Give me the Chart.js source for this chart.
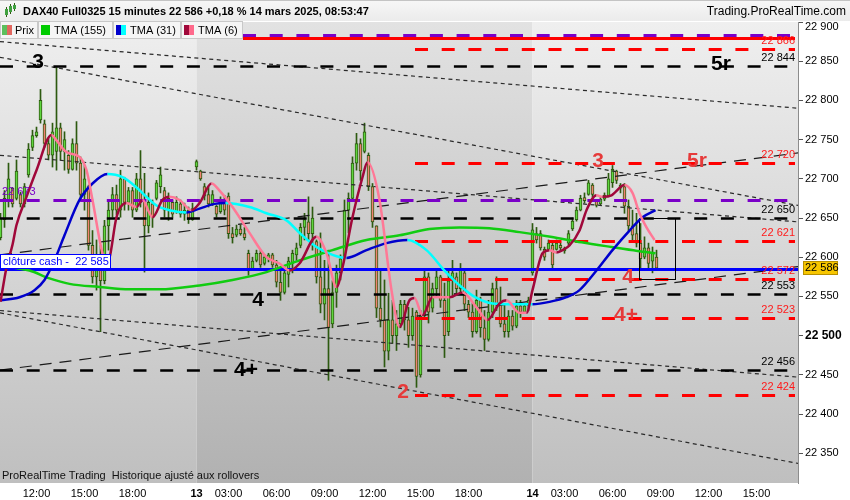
<!DOCTYPE html>
<html><head><meta charset="utf-8">
<script src="https://cdn.jsdelivr.net/npm/chart.js@4.4.1/dist/chart.umd.min.js"></script>
<style>html,body{margin:0;padding:0;background:#fff;}canvas{display:block}</style>
</head><body>
<canvas id="c" width="850" height="500"></canvas>
<script>
// ---------- DATA ----------
const candleOpen = [
22625,22648,22672,22688,22675,22680,22668,22705,22740,22755,
22775,22770,22745,22730,22735,22765,22735,22730,22712,22745,
22720,22680,22690,22615,22575,22600,22570,22640,22660,22680,
22660,22700,22670,22685,22660,22700,22670,22640,22668,22675,
22690,22685,22660,22670,22658,22668,22655,22660,22648,22715,
22710,22690,22680,22668,22665,22658,22672,22678,22630,22628,
22636,22630,22605,22585,22596,22605,22592,22598,22603,22590,
22568,22555,22578,22592,22603,22615,22638,22645,22630,22620,
22575,22540,22560,22515,22555,22580,22600,22660,22675,22720,
22745,22735,22730,22690,22640,22535,22520,22480,22520,22500,
22515,22540,22520,22500,22530,22450,22525,22575,22535,22560,
22575,22545,22505,22570,22575,22560,22580,22540,22530,22505,
22545,22510,22495,22530,22560,22540,22515,22505,22525,22512,
22538,22530,22538,22580,22630,22630,22610,22610,22615,22610,
22615,22608,22618,22636,22648,22660,22676,22680,22692,22672,
22668,22674,22678,22695,22710,22692,22690,22665,22640,22630,
22618,22600,22612,22595,22600];
const candleHigh = [
22656,22685,22720,22689,22724,22683,22694,22745,22762,22766,
22814,22775,22751,22771,22842,22771,22760,22736,22751,22773,
22728,22717,22692,22634,22622,22615,22647,22673,22689,22692,
22711,22702,22689,22689,22707,22736,22707,22682,22673,22698,
22715,22689,22682,22673,22677,22673,22669,22664,22669,22724,
22711,22694,22689,22685,22666,22677,22679,22682,22638,22641,
22641,22638,22609,22600,22609,22609,22603,22605,22605,22596,
22587,22587,22600,22609,22618,22643,22656,22677,22664,22622,
22631,22596,22609,22570,22590,22603,22673,22682,22728,22758,
22751,22771,22733,22694,22640,22583,22571,22554,22545,22532,
22545,22545,22536,22535,22532,22532,22583,22580,22567,22583,
22577,22567,22583,22596,22580,22592,22582,22545,22541,22558,
22549,22532,22545,22567,22575,22562,22541,22532,22532,22545,
22545,22541,22549,22643,22638,22634,22613,22622,22618,22622,
22618,22613,22634,22650,22664,22679,22682,22698,22694,22673,
22677,22682,22707,22717,22711,22694,22694,22673,22660,22656,
22643,22626,22618,22613,22609];
const candleLow = [
22622,22638,22664,22664,22673,22664,22664,22702,22736,22753,
22771,22740,22724,22715,22711,22724,22711,22707,22711,22711,
22673,22660,22609,22567,22558,22505,22566,22609,22651,22654,
22651,22660,22660,22651,22658,22664,22581,22631,22638,22673,
22682,22651,22647,22651,22656,22651,22647,22643,22647,22711,
22698,22673,22664,22666,22651,22656,22654,22624,22618,22626,
22628,22622,22577,22583,22594,22587,22590,22594,22587,22562,
22545,22553,22562,22580,22596,22612,22622,22622,22609,22567,
22529,22520,22443,22510,22536,22571,22598,22631,22673,22711,
22698,22733,22685,22638,22523,22511,22460,22469,22490,22481,
22510,22507,22485,22494,22434,22447,22523,22516,22530,22549,
22536,22472,22500,22549,22554,22554,22532,22523,22498,22503,
22498,22481,22493,22523,22532,22511,22498,22498,22507,22510,
22523,22529,22532,22577,22618,22609,22596,22609,22583,22609,
22609,22605,22616,22634,22646,22659,22669,22679,22677,22664,
22666,22672,22677,22689,22694,22682,22656,22634,22622,22613,
22583,22598,22583,22580,22583];
const candleClose = [
22650,22675,22700,22668,22710,22668,22690,22738,22755,22760,
22800,22745,22730,22760,22765,22735,22750,22712,22745,22720,
22680,22700,22615,22575,22600,22570,22640,22660,22680,22660,
22700,22670,22685,22660,22700,22670,22640,22670,22650,22695,
22705,22660,22675,22655,22670,22655,22660,22648,22662,22722,
22700,22678,22668,22680,22655,22672,22660,22630,22625,22636,
22630,22625,22585,22595,22605,22590,22600,22603,22590,22568,
22555,22580,22595,22605,22612,22638,22648,22630,22650,22575,
22540,22560,22510,22555,22580,22598,22660,22675,22720,22745,
22710,22760,22690,22645,22535,22520,22480,22520,22500,22515,
22540,22520,22500,22525,22448,22525,22575,22530,22560,22575,
22545,22500,22570,22580,22560,22585,22540,22530,22505,22545,
22510,22495,22530,22560,22540,22515,22505,22525,22512,22538,
22530,22538,22545,22635,22622,22612,22600,22618,22590,22618,
22612,22611,22630,22646,22660,22675,22672,22695,22680,22666,
22674,22679,22700,22712,22698,22688,22665,22640,22628,22618,
22598,22612,22592,22605,22586];

// moving averages (bar index, price)
const tma155Idx = [0,7.25,12.25,17.25,24.75,32.25,39.75,49.75,58,66.5,74.75,83,91.5,99.75,107.25,114.75,122.25,129.75,137.5,145.25,152.75,159.25,163.75];
const tma155Val = [22589,22583,22573,22566,22562,22559,22559,22564,22571,22581,22596,22609,22622,22628,22636,22638,22637,22632,22626,22619,22613,22608,22605];
const tma31Idx = [0,4.75,8.5,11,13.5,16,19.75,23,26.75,30.5,34,36.5,39,42.25,46.5,49.75,53.5,56.25,62.25,66.5,71.5,74.75,79,83,86.5,91.5,96.5,101.75,106.5,111,115.25,119,123,128,133,137.25,141.5,144.75,149,153,157.25,160.5,163.75];
const tma31Val = [22545,22549,22558,22571,22596,22628,22673,22694,22706,22702,22689,22677,22666,22660,22657,22662,22668,22669,22664,22656,22647,22631,22613,22603,22599,22609,22618,22622,22609,22583,22562,22548,22541,22540,22540,22543,22549,22558,22583,22609,22634,22651,22660];
const tma6Idx = [0,1.5,3,4,6.5,9,12.75,14,16.5,19.75,21.5,23,25.5,26.5,27.25,29,31.5,34,35.5,38,40.5,42.25,44.75,47.75,49.75,52.75,54.75,58,62.25,66.5,69.75,72.25,74.75,79,81.5,84,85.5,88,90.5,91.75,94.75,97.75,99.75,102.25,103.5,105.5,108,112.25,115.5,119,121.75,124.75,126.5,129.75,131.5,133,135.5,137.25,139,140.5,142.25,144.75,146.5,149,150.5,152.75,156,158,159.75,161.5,163.5];
const tma6Val = [22543,22587,22616,22641,22677,22711,22756,22749,22734,22728,22711,22673,22605,22594,22599,22651,22669,22664,22673,22651,22673,22677,22673,22660,22669,22694,22685,22664,22631,22600,22592,22583,22592,22626,22605,22562,22587,22651,22702,22721,22673,22558,22511,22545,22548,22526,22549,22549,22555,22536,22520,22541,22545,22529,22529,22558,22605,22609,22606,22609,22615,22634,22660,22679,22677,22679,22692,22682,22656,22638,22622];

const seriesNames = ['Prix','TMA (155)','TMA (31)','TMA (6)'];

// time axis (bar index of each label)
const xTickIndex = [9,21,33,49,57,69,81,93,105,117,133,141,153,165,177,189];
const xTickLabels = ['12:00','15:00','18:00','13','03:00','06:00','09:00','12:00','15:00','18:00','14','03:00','06:00','09:00','12:00','15:00'];
const sessionBreaks = [49,133];
const yTickValues = [22350,22400,22450,22500,22550,22600,22650,22700,22750,22800,22850,22900];

// horizontal levels
const levelValue = [22883,22880,22866,22844,22720,22673,22650,22621,22585,22572,22553,22523,22456,22424];
const levelFrom  = [60.625,60.625,103.625,-0.125,103.625,-0.125,-0.125,103.625,-0.125,103.625,-0.125,103.625,-0.125,103.625];
const levelKind  = ['purple','redSolid','red','black','red','purple','black','red','blue','red','black','red','black','red'];
const levelLabel = ['','','right','right','right','left','right','right','box','right','right','right','right','right'];
const closeCashText = 'clôture cash -  22 585';
const lastPrice = 22586;

// trend lines (bar index, price)
const trendI0 = [-0.125,-0.125,-0.125,-0.125,-0.125,-0.125,-0.125];
const trendV0 = [22875,22855,22730,22532,22529,22456,22603];
const trendI1 = [199.375,199.375,199.375,199.375,199.375,199.375,199.375];
const trendV1 = [22790,22666,22645,22447,22337,22588,22733];
const trendKind = ['dot','dot','dot','dot','dot','dash','dash'];

const boxIdx = [159.625,168.625];
const boxVal = [22650,22572];

// wave annotations
const noteText  = ['3','5r','4','4+','2','3','5r','4','4+'];
const noteIdx   = [9.375,180.125,64.375,61.375,100.625,149.375,174.125,156.875,156.375];
const notePrice = [22849,22846,22545,22456,22428,22722,22722,22574,22526];
const noteKind  = ['black','black','black','black','red','red','red','red','red'];

const titleText = 'DAX40 Full0325 15 minutes 22 586 +0,18 % 14 mars 2025, 08:53:47';
const siteText = 'Trading.ProRealTime.com';
const footText = 'ProRealTime Trading  Historique ajusté aux rollovers';

// ---------- RENDER ----------
const FONT = "'Liberation Sans', Arial, sans-serif";
const fmt = v => Math.round(v).toString().replace(/\B(?=(\d{3})+(?!\d))/g, ' ');
const X_MIN = -0.125, X_MAX = 199.375;

const levelStyle = {
  purple:   {color:'#7a00c8', width:3,   dash:[13,13.7]},
  redSolid: {color:'#ff0000', width:3,   dash:[]},
  red:      {color:'#ff0000', width:3,   dash:[13,13.7]},
  black:    {color:'#000000', width:2.5, dash:[13,13.7]},
  blue:     {color:'#0000ff', width:3,   dash:[]}
};

function drawLevels(chart){
  const {ctx, chartArea:a, scales:{x, y}} = chart;
  ctx.save();
  ctx.beginPath(); ctx.rect(a.left, a.top, a.right-a.left, a.bottom-a.top); ctx.clip();
  // trend lines
  for (let k=0;k<trendKind.length;k++){
    const dot = trendKind[k]==='dot';
    ctx.setLineDash(dot?[4,3.5]:[12,8]);
    ctx.strokeStyle = dot ? '#2a2a2a' : '#1a1a1a';
    ctx.lineWidth = 1.2;
    ctx.beginPath();
    ctx.moveTo(x.getPixelForValue(trendI0[k]), y.getPixelForValue(trendV0[k]));
    ctx.lineTo(x.getPixelForValue(trendI1[k]), y.getPixelForValue(trendV1[k]));
    ctx.stroke();
  }
  // horizontal levels
  for (let k=0;k<levelValue.length;k++){
    const st = levelStyle[levelKind[k]];
    const py = Math.round(y.getPixelForValue(levelValue[k])) + 0.5;
    const x0 = x.getPixelForValue(levelFrom[k]);
    const x1 = levelKind[k]==='blue' ? a.right : x.getPixelForValue(198.625);
    ctx.setLineDash(st.dash);
    ctx.strokeStyle = st.color; ctx.lineWidth = st.width;
    ctx.beginPath(); ctx.moveTo(x0, py); ctx.lineTo(x1, py); ctx.stroke();
  }
  // box
  ctx.setLineDash([]);
  ctx.strokeStyle = '#000'; ctx.lineWidth = 1;
  const bx0 = Math.round(x.getPixelForValue(boxIdx[0]))+0.5, bx1 = Math.round(x.getPixelForValue(boxIdx[1]))+0.5;
  const by0 = Math.round(y.getPixelForValue(boxVal[0]))+0.5, by1 = Math.round(y.getPixelForValue(boxVal[1]))+0.5;
  ctx.strokeRect(bx0, by0, bx1-bx0, by1-by0);
  ctx.restore();
}

function drawOverlay(chart){
  const {ctx, chartArea:a, scales:{x, y}} = chart;
  ctx.save();
  // annotations
  ctx.textAlign = 'center'; ctx.textBaseline = 'middle';
  ctx.font = 'bold 21px ' + FONT;
  for (let k=0;k<noteText.length;k++){
    ctx.fillStyle = noteKind[k]==='red' ? '#e63a3a' : '#000';
    ctx.fillText(noteText[k], x.getPixelForValue(noteIdx[k]), y.getPixelForValue(notePrice[k]));
  }
  // level labels
  ctx.font = '11px ' + FONT;
  for (let k=0;k<levelValue.length;k++){
    const py = y.getPixelForValue(levelValue[k]);
    const col = levelStyle[levelKind[k]].color;
    if (levelLabel[k]==='right'){
      ctx.textAlign='right'; ctx.fillStyle = col==='#000000' ? '#000' : '#ff1a1a';
      ctx.fillText(fmt(levelValue[k]), 795, py - 8);
    } else if (levelLabel[k]==='left'){
      ctx.textAlign='left'; ctx.fillStyle = col;
      ctx.fillText(fmt(levelValue[k]), 2, py - 8);
    } else if (levelLabel[k]==='box'){
      const by = Math.round(py);
      ctx.fillStyle='#fff'; ctx.fillRect(0, by-15, 111, 14);
      ctx.strokeStyle='#0000ff'; ctx.lineWidth=1;
      ctx.strokeRect(0.5, by-14.5, 110, 14);
      ctx.textAlign='left'; ctx.fillStyle='#0000ff';
      ctx.fillText(closeCashText, 3, by-7);
    }
  }
  // current price tag on axis
  const lp = Math.round(y.getPixelForValue(lastPrice));
  ctx.fillStyle = '#f7c600'; ctx.fillRect(803, lp-7, 35, 14);
  ctx.strokeStyle = '#b89000'; ctx.lineWidth=1; ctx.strokeRect(803.5, lp-6.5, 34, 13);
  ctx.fillStyle = '#000'; ctx.textAlign='left'; ctx.font='11px '+FONT;
  ctx.fillText(fmt(lastPrice), 805, lp);
  // top axis label (pushed inside like the reference)
  ctx.fillText(fmt(22900), 805, 27);
  // footer
  ctx.fillStyle = '#111'; ctx.font = '11px ' + FONT;
  ctx.fillText(footText, 2, 476);
  ctx.restore();
}

function drawChrome(chart){
  const ctx = chart.ctx;
  ctx.save();
  // title bar
  const g = ctx.createLinearGradient(0,0,0,21);
  g.addColorStop(0,'#f7f7f7'); g.addColorStop(1,'#ebebeb');
  ctx.fillStyle = g; ctx.fillRect(0,0,850,21);
  ctx.strokeStyle='#c4c4c4'; ctx.lineWidth=1;
  ctx.beginPath(); ctx.moveTo(0,0.5); ctx.lineTo(850,0.5); ctx.stroke();
  // icon
  const icon = [[6,9,15,7,17,'#3fa03f'],[10,6,12,4,14,'#3fa03f'],[14,5,9,3,11,'#3fa03f']];
  icon.forEach(([cx,b0,b1,w0,w1,c])=>{ctx.fillStyle='#2d5a10';ctx.fillRect(cx,w0,1,w1-w0);ctx.fillStyle=c;ctx.fillRect(cx-1,b0,3,b1-b0);});
  ctx.fillStyle='#000'; ctx.textBaseline='middle'; ctx.textAlign='left';
  ctx.font='bold 11px '+FONT; ctx.fillText(titleText, 23, 12);
  ctx.textAlign='right'; ctx.font='12px '+FONT; ctx.fillText(siteText, 846, 12);
  // legend
  const boxes = [[0,37],[38,112],[113,180],[181,242]];
  const textX = [15,54,130,198];
  const sw = [[['#5cbf5c',2,5],['#e2675f',7,5]],[['#00cc00',41,9]],[['#0000cc',116,5],['#00ffff',121,5]],[['#a0083a',184,5],['#ff6a8c',189,5]]];
  boxes.forEach(([b0,b1],k)=>{
    ctx.fillStyle='#f5f5f5'; ctx.fillRect(b0,21,b1-b0,18);
    ctx.strokeStyle='#c8c8c8'; ctx.strokeRect(b0+0.5,21.5,b1-b0,17);
    sw[k].forEach(([c,sx,w])=>{ctx.fillStyle=c; ctx.fillRect(sx,25,w,10);});
    ctx.fillStyle='#000'; ctx.textAlign='left'; ctx.font='11px '+FONT;
    ctx.fillText(seriesNames[k], textX[k], 30.5);
  });
  ctx.restore();
}

const bgPlugin = {
  id:'bg',
  beforeDraw(chart){
    const {ctx, chartArea:a, scales:{x}} = chart;
    ctx.save();
    ctx.fillStyle='#fff'; ctx.fillRect(0,0,850,500);
    const edges = [a.left, ...sessionBreaks.map(v=>x.getPixelForValue(v)), a.right];
    for (let s=0;s<edges.length-1;s++){
      const dark = s%2===1;
      const g = ctx.createLinearGradient(0,a.top,0,a.bottom);
      g.addColorStop(0, dark?'#e2e2e2':'#efefef');
      g.addColorStop(1, dark?'#b1b1b1':'#bfbfbf');
      ctx.fillStyle=g; ctx.fillRect(edges[s],a.top,edges[s+1]-edges[s],a.bottom-a.top);
    }
    ctx.restore();
  },
  afterDatasetDraw(chart,args){ if (args.index===1) drawLevels(chart); },
  afterDatasetsDraw(chart){ drawOverlay(chart); },
  afterDraw(chart){ drawChrome(chart); }
};

const N = candleClose.length;
const wicks = candleLow.map((l,i)=>({x:i, y:[l, candleHigh[i]]}));
const bodies = candleOpen.map((o,i)=>({x:i, y:[Math.min(o,candleClose[i]), Math.max(o,candleClose[i])]}));
const pts = (ix, vs) => ix.map((v,i)=>({x:v, y:vs[i]}));
const upDown = (up, dn) => ({borderColor: c => c.p1.parsed.y > c.p0.parsed.y ? up : dn});

new Chart(document.getElementById('c'), {
  type:'bar',
  data:{datasets:[
    {label:'wick', data:wicks, backgroundColor:'#2d5a10', barThickness:1, grouped:false, order:4},
    {label:'Prix', data:bodies, barThickness:3, grouped:false, minBarLength:1, borderWidth:1, borderSkipped:false,
      borderColor:'#2d5a10',
      backgroundColor: c => candleClose[c.dataIndex] >= candleOpen[c.dataIndex] ? '#5fd63f' : '#f08272', order:3},
    {type:'line', label:'TMA (155)', data:pts(tma155Idx,tma155Val), borderColor:'#11cc11', borderWidth:2.5, pointRadius:0, cubicInterpolationMode:'monotone', order:2},
    {type:'line', label:'TMA (31)', data:pts(tma31Idx,tma31Val), borderColor:'#0000cc', segment:upDown('#0000cc','#00ffff'), borderWidth:2.5, pointRadius:0, cubicInterpolationMode:'monotone', order:1},
    {type:'line', label:'TMA (6)', data:pts(tma6Idx,tma6Val), borderColor:'#a0083a', segment:upDown('#a0083a','#ff7896'), borderWidth:2.5, pointRadius:0, cubicInterpolationMode:'monotone', order:0}
  ]},
  options:{
    responsive:false, animation:false, devicePixelRatio:1,
    layout:{padding:{top:22,left:0,right:0,bottom:0}},
    plugins:{legend:{display:false}, tooltip:{enabled:false}},
    scales:{
      x:{type:'linear', min:X_MIN, max:X_MAX, offset:false,
        grid:{display:false, drawTicks:false}, border:{display:false},
        afterBuildTicks: s => { s.ticks = xTickIndex.map(v=>({value:v})); },
        afterFit: s => { s.height = 17; },
        ticks:{autoSkip:false, maxRotation:0, padding:4, color:'#000',
          font: c => ({family:FONT, size:11, weight: (xTickLabels[c.index]||'').length<=2 ? 'bold':'normal'}),
          callback:(v,i)=>xTickLabels[i]}
      },
      y:{position:'right', min:22312, max:22900,
        afterBuildTicks: s => { s.ticks = yTickValues.map(v=>({value:v})); },
        afterFit: s => { s.width = 52; },
        grid:{drawOnChartArea:false, drawTicks:true, tickLength:5, color:'#555'},
        border:{display:true, color:'#8c8c8c'},
        ticks:{padding:2, color:'#000',
          font: c => ({family:FONT, size: (c.tick && c.tick.value===22500) ? 12 : 11, weight:(c.tick && c.tick.value===22500)?'bold':'normal'}),
          callback: v => v===22900 ? '' : fmt(v)}
      }
    }
  },
  plugins:[bgPlugin]
});
</script>
</body></html>
